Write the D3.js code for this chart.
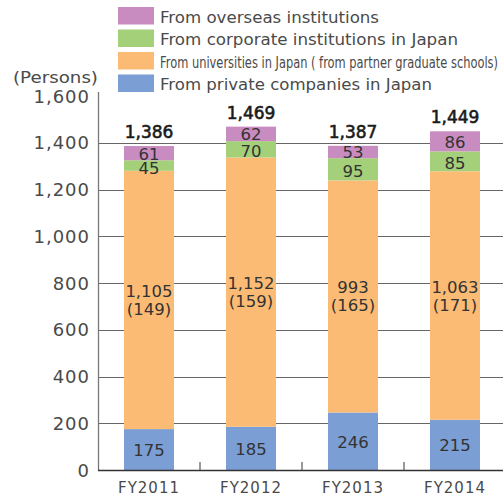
<!DOCTYPE html>
<html><head><meta charset="utf-8">
<script src="https://cdn.jsdelivr.net/npm/d3@7"></script>
<style>body{margin:0;background:#fff;}svg{display:block;font-family:"DejaVu Sans",sans-serif;}</style>
</head><body>
<svg id="c" width="503" height="498"></svg>
<script>
const years = ["FY2011","FY2012","FY2013","FY2014"];
const privateCo = [175,185,246,215];
const universities = [1105,1152,993,1063];
const partnerSchools = [149,159,165,171];
const corporate = [45,70,95,85];
const overseas = [61,62,53,86];
const yTicks = [0,200,400,600,800,1000,1200,1400,1600];
const seriesNames = ["From private companies in Japan","From universities in Japan ( from partner graduate schools)","From corporate institutions in Japan","From overseas institutions"];
const seriesKeys = ["private","univ","corp","overseas"];
const colors = {private:"#7b9ed4",univ:"#fbbb74",corp:"#a4d07a",overseas:"#c98cc0"};

const rows = years.map((y,i)=>({year:y,private:privateCo[i],univ:universities[i],corp:corporate[i],overseas:overseas[i],partner:partnerSchools[i]}));
const svg = d3.select("#c");
const y = d3.scaleLinear().domain([0,1600]).range([470,96]);
const x = d3.scaleBand().domain(years).range([98,506]).paddingInner(0.51).paddingOuter(0.255);
const stack = d3.stack().keys(seriesKeys)(rows);

// gridlines
svg.append("g").selectAll("line").data(yTicks.filter(t=>t>0&&t<1600)).join("line")
  .attr("x1",98).attr("x2",503).attr("y1",d=>Math.round(y(d))+0.5).attr("y2",d=>Math.round(y(d))+0.5)
  .attr("stroke","#666").attr("stroke-width",1);

// bars
svg.append("g").selectAll("g").data(stack).join("g").attr("fill",d=>colors[d.key])
  .selectAll("rect").data(d=>d).join("rect")
  .attr("x",d=>x(d.data.year)).attr("width",x.bandwidth())
  .attr("y",d=>y(d[1])).attr("height",d=>y(d[0])-y(d[1]));

// y axis line
svg.append("line").attr("x1",98.5).attr("x2",98.5).attr("y1",y(1600)-4).attr("y2",y(0)).attr("stroke","#777").attr("stroke-width",1.3);
// x axis
svg.append("line").attr("x1",98).attr("x2",503).attr("y1",y(0)+0.5).attr("y2",y(0)+0.5).attr("stroke","#333").attr("stroke-width",1.5);
// x ticks between categories
svg.append("g").selectAll("line").data(years.slice(1)).join("line")
  .attr("x1",d=>x(d)-x.step()*x.paddingInner()/2).attr("x2",d=>x(d)-x.step()*x.paddingInner()/2)
  .attr("y1",y(0)).attr("y2",y(0)-8).attr("stroke","#555").attr("stroke-width",1.2);

// y tick labels
svg.append("g").selectAll("text").data(yTicks).join("text")
  .attr("x",90).attr("y",d=>y(d)+6.5).attr("text-anchor","end")
  .attr("font-size",18).attr("letter-spacing",1).attr("fill","#4a4a4a")
  .text(d=>d3.format(",")(d));
svg.append("text").attr("x",13).attr("y",83).attr("font-size",15.5).attr("fill","#4a4a4a")
  .attr("textLength",85).attr("lengthAdjust","spacingAndGlyphs").text("(Persons)");

// x labels
svg.append("g").selectAll("text").data(years).join("text")
  .attr("x",d=>x(d)+x.bandwidth()/2).attr("y",492.5).attr("text-anchor","middle")
  .attr("font-size",15).attr("letter-spacing",1).attr("fill","#4a4a4a").text(d=>d);

// segment labels
const fmt = d3.format(",");
stack.forEach(s=>{
  const g = svg.append("g").attr("fill","#333").attr("font-size",16.5).attr("text-anchor","middle");
  s.forEach(d=>{
    const cx = x(d.data.year)+x.bandwidth()/2;
    const cy = (y(d[0])+y(d[1]))/2;
    if(s.key==="univ"){
      g.append("text").attr("x",cx).attr("y",cy-3).text(fmt(d.data.univ));
      g.append("text").attr("x",cx).attr("y",cy+15).text("("+d.data.partner+")");
    } else {
      const off = s.key==="corp"?8:6.5;
      g.append("text").attr("x",cx).attr("y",cy+off).text(fmt(d.data[s.key]));
    }
  });
});
// totals
const topLayer = stack[stack.length-1];
svg.append("g").selectAll("text").data(topLayer).join("text")
  .attr("x",d=>x(d.data.year)+x.bandwidth()/2).attr("y",d=>y(d[1])-8)
  .attr("text-anchor","middle").attr("font-size",17).attr("fill","#1a1a1a")
  .attr("stroke","#1a1a1a").attr("stroke-width",0.6)
  .text(d=>fmt(d[1]));

// legend
const legOrder = [3,2,1,0];
const legWidths = [219,298,338,272];
const leg = svg.append("g");
legOrder.forEach((k,i)=>{
  const ty = 7 + i*22.5;
  leg.append("rect").attr("x",118).attr("y",ty).attr("width",36).attr("height",17.5).attr("fill",colors[seriesKeys[k]]);
  leg.append("text").attr("x",160).attr("y",ty+15.5).attr("font-size",16).attr("fill","#4a4a4a")
    .attr("textLength",legWidths[i]).attr("lengthAdjust","spacingAndGlyphs").text(seriesNames[k]);
});
</script>
</body></html>
